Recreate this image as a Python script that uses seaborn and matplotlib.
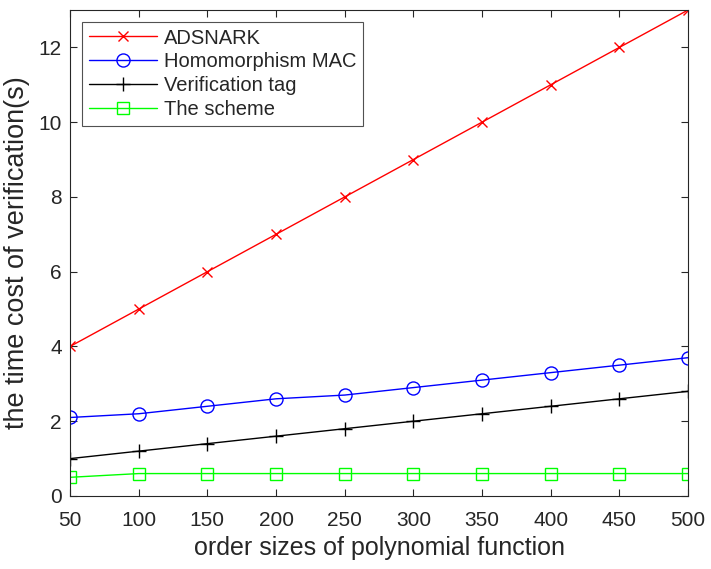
import matplotlib
matplotlib.use("Agg")
import matplotlib.pyplot as plt
import seaborn as sns
import pandas as pd

sizes = [50, 100, 150, 200, 250, 300, 350, 400, 450, 500]
adsnark = [4, 5, 6, 7, 8, 9, 10, 11, 12, 13]
homo_mac = [2.1, 2.2, 2.4, 2.6, 2.7, 2.9, 3.1, 3.3, 3.5, 3.7]
ver_tag = [1.0, 1.2, 1.4, 1.6, 1.8, 2.0, 2.2, 2.4, 2.6, 2.8]
scheme = [0.5, 0.6, 0.6, 0.6, 0.6, 0.6, 0.6, 0.6, 0.6, 0.6]
names = ["ADSNARK", "Homomorphism MAC", "Verification tag", "The scheme"]
colors = ["#ff0000", "#0000ff", "#000000", "#00ff00"]
markers = ["x", "o", "+", "s"]
msizes = [7, 9.4, 10.5, 8.6]

sns.set_theme(style="white")
regular = ['Liberation Sans', 'DejaVu Sans']
plt.rcParams['font.family'] = regular
text_color = "#262626"

fig = plt.figure(figsize=(7.11, 5.69), dpi=100)
ax = fig.add_axes([0.0985, 0.1283, 0.8692, 0.8541])

series = [adsnark, homo_mac, ver_tag, scheme]
for name, vals, c, m, ms in zip(names, series, colors, markers, msizes):
    df = pd.DataFrame({"x": sizes, "y": vals})
    sns.lineplot(data=df, x="x", y="y", ax=ax, color=c, marker=m, markersize=ms,
                 markerfacecolor="none", markeredgecolor=c, markeredgewidth=1.0,
                 linewidth=1.0, label=name)

ax.set_xlim(50, 500)
ax.set_ylim(0, 13)
ax.set_xticks(sizes)
ax.set_yticks([0, 2, 4, 6, 8, 10, 12])
ax.set_xlabel("order sizes of polynomial function", fontsize=18, color=text_color,
              labelpad=4)
ax.set_ylabel("the time cost of verification(s)", fontsize=19.5, color=text_color,
              labelpad=6)
ax.tick_params(direction="in", length=5, width=0.8, labelsize=15, colors=text_color,
               top=True, right=True, bottom=True, left=True, pad=6)
ax.tick_params(axis="x", pad=11)
for s in ax.spines.values():
    s.set_color(text_color)
    s.set_linewidth(0.8)

leg = ax.legend(loc="upper left", frameon=True, fancybox=False,
                edgecolor="#262626", handlelength=3.4, borderpad=0.32,
                labelspacing=0.245, handletextpad=0.35, borderaxespad=0.6,
                prop={'family': regular, 'size': 14.5})
leg.get_frame().set_linewidth(0.8)
for t in leg.get_texts():
    t.set_color(text_color)

fig.savefig("out.png", dpi=100)
